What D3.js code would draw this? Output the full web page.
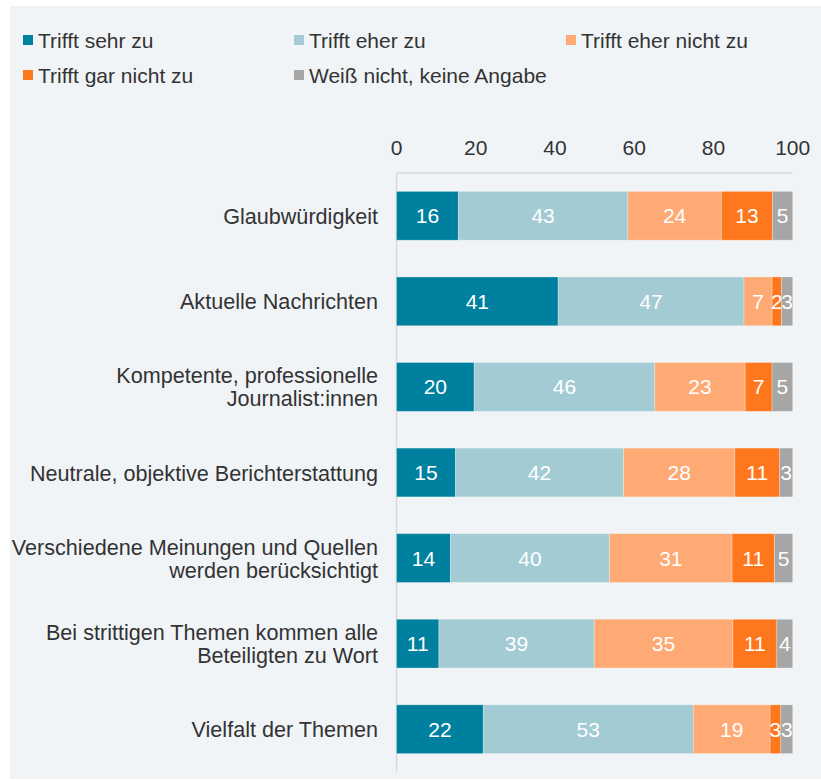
<!DOCTYPE html>
<html lang="de">
<head>
  <meta charset="UTF-8">
  <style>
    body { margin: 0; background: #fff; }
    svg { display: block; }
    .axis-label, .cat-label, .legend-text {
      fill: #333;
      font-family: "Liberation Sans", Arial, sans-serif;
      font-size: 21px;
    }
    .cat-label { font-size: 21.6px; }
    .seg-label {
      fill: #fff;
      font-family: "Liberation Sans", Arial, sans-serif;
      font-size: 21px;
    }
  </style>
  <script src="https://d3js.org/d3.v7.min.js"></script>
</head>
<body>
<svg id="chart"></svg>
<script>

const categories = [
  ['Glaubwürdigkeit'],
  ['Aktuelle Nachrichten'],
  ['Kompetente, professionelle', 'Journalist:innen'],
  ['Neutrale, objektive Berichterstattung'],
  ['Verschiedene Meinungen und Quellen', 'werden berücksichtigt'],
  ['Bei strittigen Themen kommen alle', 'Beteiligten zu Wort'],
  ['Vielfalt der Themen']
];
const seriesNames = ['Trifft sehr zu', 'Trifft eher zu', 'Trifft eher nicht zu', 'Trifft gar nicht zu', 'Weiß nicht, keine Angabe'];
const seriesColors = ['#00809f', '#a2cbd4', '#ffaa74', '#ff771c', '#a6a6a6'];

// Werte je Kategorie, Reihenfolge wie seriesNames
const sehrZu    = [15.6, 40.8, 19.6, 14.9, 13.6, 10.7, 21.9];
const eherZu    = [42.8, 46.9, 45.6, 42.4, 40.2, 39.2, 53.0];
const eherNicht = [23.6, 7.1, 22.8, 28.1, 30.9, 35.0, 19.4];
const garNicht  = [12.9, 2.4, 6.8, 11.3, 10.7, 11.1, 2.7];
const weissNicht = [5.1, 2.8, 5.2, 3.3, 4.6, 4.0, 3.0];
const xTicks = [0, 20, 40, 60, 80, 100];

const width = 821, height = 780;
const svg = d3.select('#chart').attr('width', width).attr('height', height);

svg.append('rect')
  .attr('x', 10).attr('y', 6)
  .attr('width', width - 10).attr('height', 773)
  .attr('fill', '#f1f4f7');

const series = [sehrZu, eherZu, eherNicht, garNicht, weissNicht];
const rows = categories.map(function(c, i) {
  const row = {name: c.join(' '), lines: c};
  series.forEach(function(s, j) { row['s' + j] = s[i]; });
  return row;
});
const keys = series.map(function(s, j) { return 's' + j; });
const stacked = d3.stack().keys(keys)(rows);

const xScale = d3.scaleLinear().domain([0, 100]).range([396.5, 792.7]);
const yScale = d3.scaleBand()
  .domain(rows.map(function(d) { return d.name; }))
  .range([173, 772])
  .paddingInner(0.43)
  .paddingOuter(0.215);

// Achsenlinien
svg.append('line')
  .attr('x1', xScale(0)).attr('x2', xScale(100))
  .attr('y1', 173).attr('y2', 173)
  .attr('stroke', '#d9d9d9').attr('stroke-width', 1.5);
svg.append('line')
  .attr('x1', xScale(0)).attr('x2', xScale(0))
  .attr('y1', 173).attr('y2', 772)
  .attr('stroke', '#d9d9d9').attr('stroke-width', 1.5);

svg.selectAll('.axis-label')
  .data(xTicks)
  .enter()
  .append('text')
  .attr('class', 'axis-label')
  .attr('x', function(d) { return xScale(d); })
  .attr('y', 147)
  .attr('text-anchor', 'middle')
  .attr('dominant-baseline', 'central')
  .text(function(d) { return d; });

const groups = svg.selectAll('.series')
  .data(stacked)
  .enter()
  .append('g')
  .attr('class', 'series')
  .attr('fill', function(d, i) { return seriesColors[i]; });

groups.selectAll('rect')
  .data(function(d) { return d; })
  .enter()
  .append('rect')
  .attr('x', function(d) { return xScale(d[0]); })
  .attr('y', function(d) { return yScale(d.data.name); })
  .attr('width', function(d) { return xScale(d[1]) - xScale(d[0]); })
  .attr('height', yScale.bandwidth())
  .attr('stroke', '#fff')
  .attr('stroke-opacity', 0.35)
  .attr('stroke-width', 0.75);

groups.selectAll('.seg-label')
  .data(function(d) { return d; })
  .enter()
  .append('text')
  .attr('class', 'seg-label')
  .attr('x', function(d) { return (xScale(d[0]) + xScale(d[1])) / 2; })
  .attr('y', function(d) { return yScale(d.data.name) + yScale.bandwidth() / 2; })
  .attr('text-anchor', 'middle')
  .attr('dominant-baseline', 'central')
  .text(function(d) { return Math.round(d.data[d3.select(this.parentNode).datum().key]); });

// Kategorien
const cats = svg.selectAll('.cat-label')
  .data(rows)
  .enter()
  .append('text')
  .attr('class', 'cat-label')
  .attr('text-anchor', 'end')
  .attr('dominant-baseline', 'central');
cats.each(function(d) {
  const cy = yScale(d.name) + yScale.bandwidth() / 2;
  const n = d.lines.length;
  d3.select(this).selectAll('tspan')
    .data(d.lines)
    .enter()
    .append('tspan')
    .attr('x', 378)
    .attr('y', function(l, k) { return cy + (k - (n - 1) / 2) * 23; })
    .text(function(l) { return l; });
});

// Legende
const legendPos = [[23, 40], [294, 40], [566, 40], [23, 75], [294, 75]];
const legend = svg.selectAll('.legend')
  .data(seriesNames)
  .enter()
  .append('g')
  .attr('class', 'legend')
  .attr('transform', function(d, i) {
    return 'translate(' + legendPos[i][0] + ',' + legendPos[i][1] + ')';
  });
legend.append('rect')
  .attr('x', 0).attr('y', -5)
  .attr('width', 10).attr('height', 10)
  .attr('fill', function(d, i) { return seriesColors[i]; });
legend.append('text')
  .attr('class', 'legend-text')
  .attr('x', 15)
  .attr('y', 0)
  .attr('dominant-baseline', 'central')
  .text(function(d) { return d; });

</script>
</body>
</html>
